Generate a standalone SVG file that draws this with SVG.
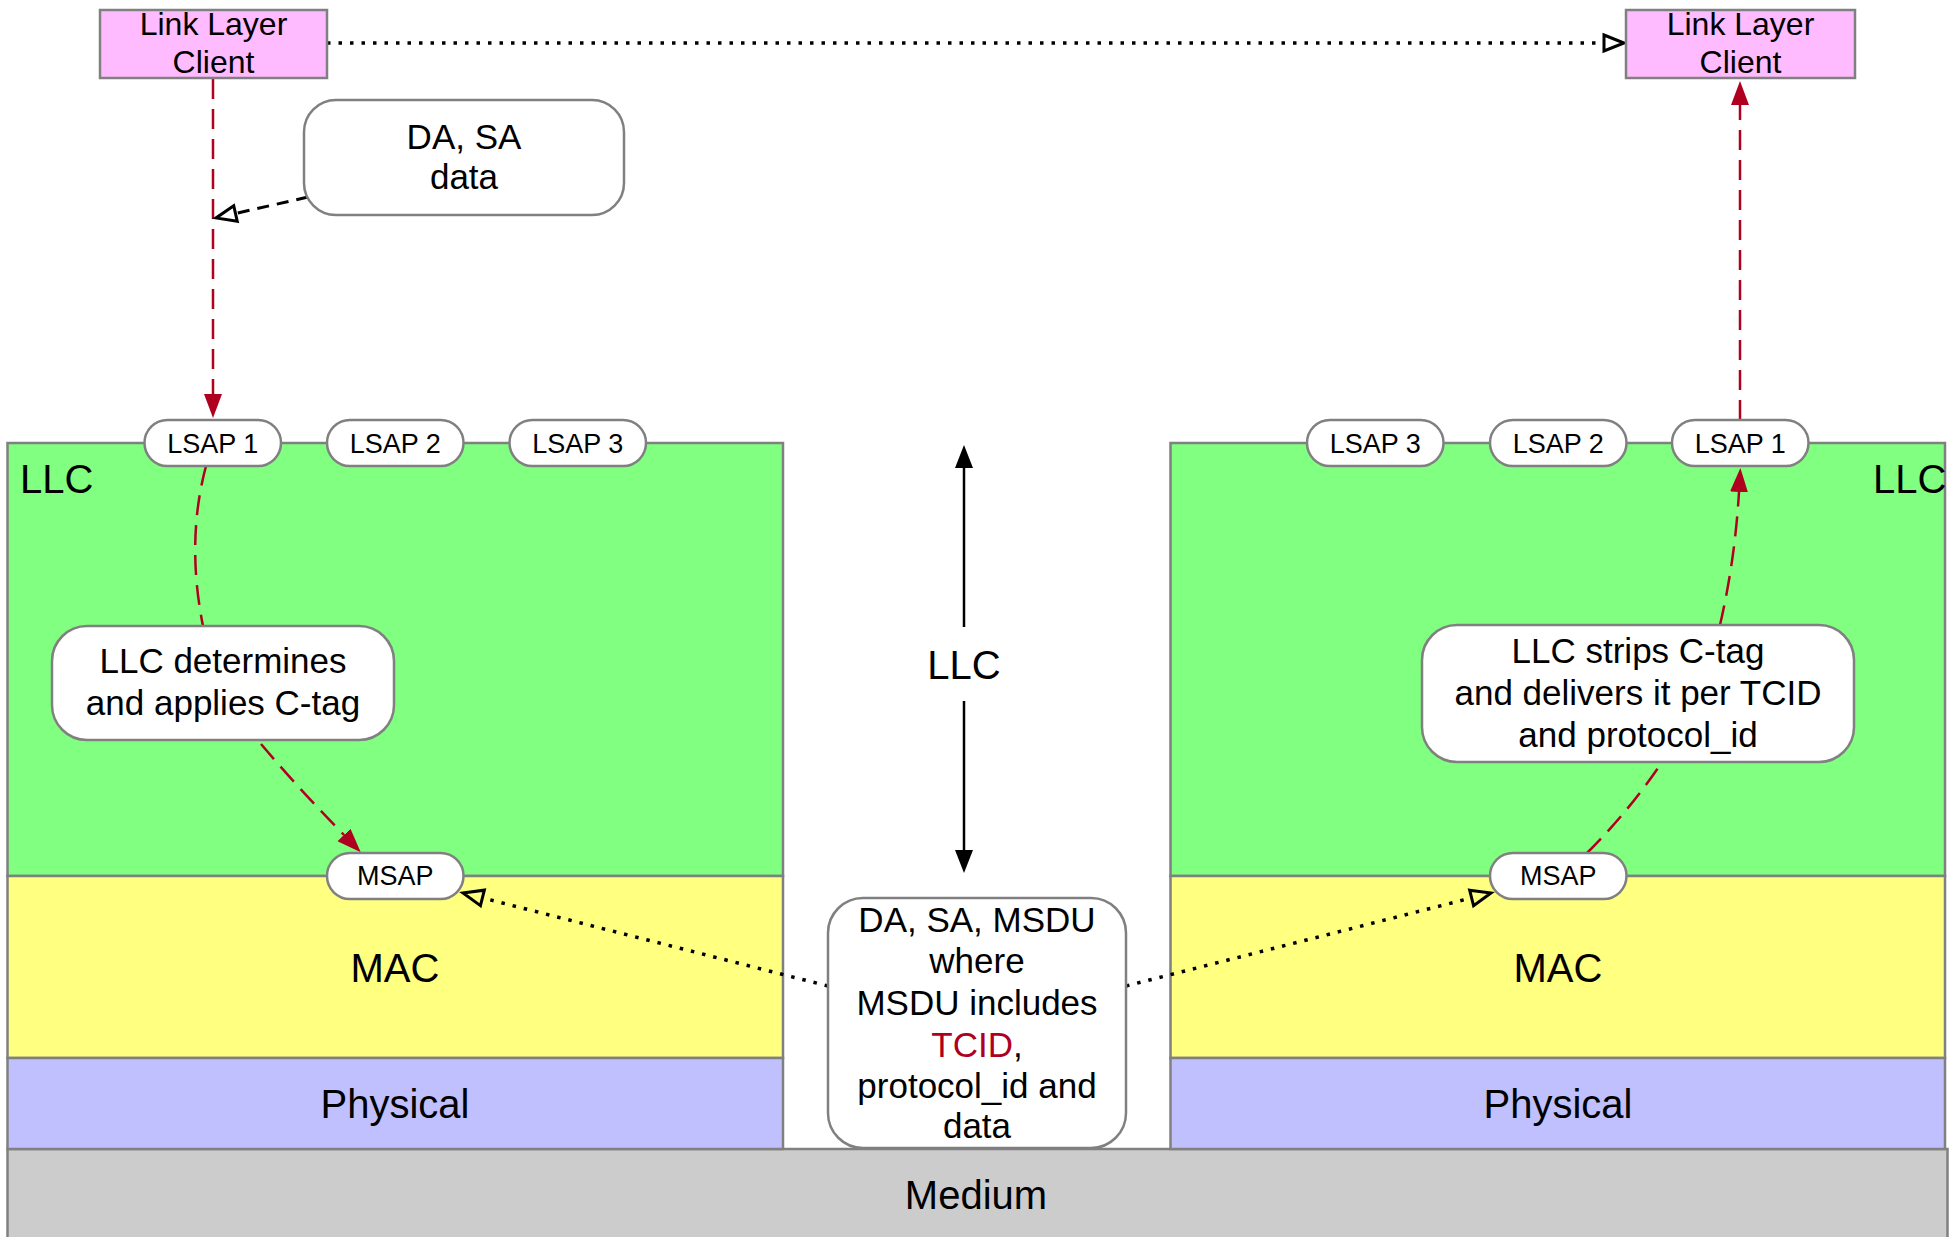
<svg xmlns="http://www.w3.org/2000/svg" width="1957" height="1237" viewBox="0 0 1957 1237">
<style>
text{font-family:"Liberation Sans",Arial,sans-serif;fill:#000;}
.layer{stroke:#808080;stroke-width:2.5;}
.llc{fill:#80FF80;}
.mac{fill:#FFFF80;}
.phy{fill:#C0C0FF;}
.med{fill:#CCCCCC;}
.client{fill:#FFBBFF;stroke:#808080;stroke-width:2.5;}
.pill{fill:#fff;stroke:#808080;stroke-width:2.5;}
.note{fill:#fff;stroke:#808080;stroke-width:2.5;}
.big{font-size:40px;}
.mid{font-size:35px;text-anchor:middle;}
.sap{font-size:27px;text-anchor:middle;}
.cl{font-size:32px;text-anchor:middle;}
.red{fill:none;stroke:#B0001F;stroke-width:2.5;stroke-dasharray:20,10;}
.blkdash{fill:none;stroke:#000;stroke-width:3;stroke-dasharray:12,8;}
.dot{fill:none;stroke:#000;stroke-width:3.5;stroke-dasharray:3.5,8;}
.solid{fill:none;stroke:#000;stroke-width:2.5;}
</style>
<defs>
<marker id="redHead" viewBox="0 0 24 18" refX="0" refY="9" markerWidth="24" markerHeight="18" markerUnits="userSpaceOnUse" orient="auto"><path d="M0,0 L24,9 L0,18 z" fill="#B0001F"/></marker>
<marker id="blkHead" viewBox="0 0 23 18" refX="0" refY="9" markerWidth="23" markerHeight="18" markerUnits="userSpaceOnUse" orient="auto"><path d="M0,0 L23,9 L0,18 z" fill="#000"/></marker>
<marker id="openHead" viewBox="-2 -2 24 20" refX="0" refY="8" markerWidth="24" markerHeight="20" markerUnits="userSpaceOnUse" orient="auto" overflow="visible"><path d="M0,0 L20,8 L0,16 z" fill="none" stroke="#000" stroke-width="3"/></marker>
</defs>

<g id="medium">
<rect class="layer med" x="7.5" y="1149" width="1940" height="100"/>
<text class="big" x="976" y="1209" text-anchor="middle">Medium</text>
</g>

<g id="left-stack">
<rect class="layer llc" x="7.5" y="443" width="775.5" height="433"/>
<rect class="layer mac" x="7.5" y="876" width="775.5" height="182"/>
<rect class="layer phy" x="7.5" y="1058" width="775.5" height="91"/>
<text class="big" x="20" y="493">LLC</text>
<text class="big" x="395" y="982" text-anchor="middle">MAC</text>
<text class="big" x="395" y="1118" text-anchor="middle">Physical</text>
</g>

<g id="right-stack">
<rect class="layer llc" x="1170.5" y="443" width="774.5" height="433"/>
<rect class="layer mac" x="1170.5" y="876" width="774.5" height="182"/>
<rect class="layer phy" x="1170.5" y="1058" width="774.5" height="91"/>
<text class="big" x="1873" y="493">LLC</text>
<text class="big" x="1558" y="982" text-anchor="middle">MAC</text>
<text class="big" x="1558" y="1118" text-anchor="middle">Physical</text>
</g>

<g id="center-llc-label">
<text class="big" x="964" y="679" text-anchor="middle">LLC</text>
</g>

<g id="connectors">
<path class="dot" d="M327,43 L1604,43" marker-end="url(#openHead)"/>
<path class="red" d="M213,79 L213,394" marker-end="url(#redHead)"/>
<path class="red" d="M1740,420 L1740,105" marker-end="url(#redHead)"/>
<path class="blkdash" d="M308,197 L235.5,213.5" marker-end="url(#openHead)"/>
<path class="red" d="M206,466 Q186,541 203,626"/>
<path class="red" d="M261,744 Q300,790 344,835" marker-end="url(#redHead)"/>
<path class="red" d="M1587,853 Q1630,810 1662,762"/>
<path class="red" d="M1720,625 Q1735,560 1739,492" marker-end="url(#redHead)"/>
<path class="solid" d="M964,627 L964,468" marker-end="url(#blkHead)"/>
<path class="solid" d="M964,701 L964,850" marker-end="url(#blkHead)"/>
<path class="dot" d="M828,986 L482.4,897.9" marker-end="url(#openHead)"/>
<path class="dot" d="M1126,986 L1471.6,897.9" marker-end="url(#openHead)"/>
</g>

<g id="client-left">
<rect class="client" x="100" y="10" width="227" height="68"/>
<text class="cl" x="213.5" y="35">Link Layer</text>
<text class="cl" x="213.5" y="73">Client</text>
</g>
<g id="client-right">
<rect class="client" x="1626" y="10" width="229" height="68"/>
<text class="cl" x="1740.5" y="35">Link Layer</text>
<text class="cl" x="1740.5" y="73">Client</text>
</g>

<g id="note-da-sa">
<rect class="note" x="304" y="100" width="320" height="115" rx="32"/>
<text class="mid" x="464" y="149">DA, SA</text>
<text class="mid" x="464" y="189">data</text>
</g>

<g id="lsap1-left"><rect class="pill" x="144.5" y="420" width="136.5" height="46" rx="23"/><text class="sap" x="212.75" y="453">LSAP 1</text></g>
<g id="lsap2-left"><rect class="pill" x="327" y="420" width="136.5" height="46" rx="23"/><text class="sap" x="395.25" y="453">LSAP 2</text></g>
<g id="lsap3-left"><rect class="pill" x="509.5" y="420" width="136.5" height="46" rx="23"/><text class="sap" x="577.75" y="453">LSAP 3</text></g>
<g id="lsap3-right"><rect class="pill" x="1307" y="420" width="136.5" height="46" rx="23"/><text class="sap" x="1375.25" y="453">LSAP 3</text></g>
<g id="lsap2-right"><rect class="pill" x="1490" y="420" width="136.5" height="46" rx="23"/><text class="sap" x="1558.25" y="453">LSAP 2</text></g>
<g id="lsap1-right"><rect class="pill" x="1672" y="420" width="136.5" height="46" rx="23"/><text class="sap" x="1740.25" y="453">LSAP 1</text></g>
<g id="msap-left"><rect class="pill" x="327" y="853" width="136.5" height="46" rx="23"/><text class="sap" x="395.25" y="885">MSAP</text></g>
<g id="msap-right"><rect class="pill" x="1490" y="853" width="136.5" height="46" rx="23"/><text class="sap" x="1558.25" y="885">MSAP</text></g>

<g id="note-left">
<rect class="note" x="52" y="626" width="342" height="114" rx="35"/>
<text class="mid" x="223" y="673">LLC determines</text>
<text class="mid" x="223" y="715">and applies C-tag</text>
</g>

<g id="note-right">
<rect class="note" x="1422" y="625" width="432" height="137" rx="35"/>
<text class="mid" x="1638" y="663">LLC strips C-tag</text>
<text class="mid" x="1638" y="705">and delivers it per TCID</text>
<text class="mid" x="1638" y="747">and protocol_id</text>
</g>

<g id="note-center">
<rect class="note" x="828" y="898" width="298" height="250" rx="35"/>
<text class="mid" x="977" y="932">DA, SA, MSDU</text>
<text class="mid" x="977" y="973">where</text>
<text class="mid" x="977" y="1015">MSDU includes</text>
<text class="mid" x="977" y="1057"><tspan fill="#B0001F">TCID</tspan>,</text>
<text class="mid" x="977" y="1098">protocol_id and</text>
<text class="mid" x="977" y="1138">data</text>
</g>
</svg>
